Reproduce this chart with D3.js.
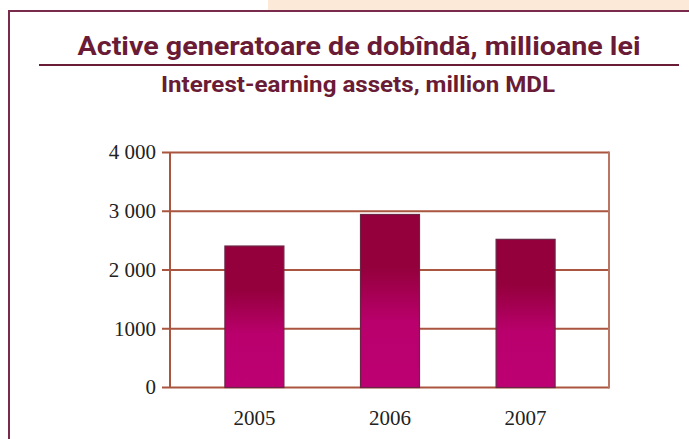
<!DOCTYPE html>
<html>
<head>
<meta charset="utf-8">
<script src="https://cdn.jsdelivr.net/npm/d3@7"></script>
<style>
  html, body { margin: 0; padding: 0; background: #fff; }
</style>
</head>
<body>
<div id="chart"></div>
<script>
// data
const years = ["2005", "2006", "2007"];
const assets = [2408, 2945, 2522];
const yTicks = [0, 1000, 2000, 3000, 4000];
const yTickLabels = ["0", "1000", "2 000", "3 000", "4 000"];

const titleRo = "Active generatoare de dobîndă, millioane lei";
const titleEn = "Interest-earning assets, million MDL";

const width = 689;
const height = 439;
const plot = { left: 170, right: 609, top: 152.5, bottom: 387.5 };
const gridColor = "#a9553f";
const frameColor = "#7a2a4c";

const svg = d3.select("#chart")
    .append("svg")
    .attr("width", width)
    .attr("height", height);

// gradient for the bars: dark crimson on top, magenta at the bottom
const grad = svg.append("defs")
    .append("linearGradient")
    .attr("id", "barGrad")
    .attr("x1", 0).attr("y1", 0)
    .attr("x2", 0).attr("y2", 1);
grad.append("stop").attr("offset", "0%").attr("stop-color", "#93003b");
grad.append("stop").attr("offset", "30%").attr("stop-color", "#93003b");
grad.append("stop").attr("offset", "62%").attr("stop-color", "#b9006c");
grad.append("stop").attr("offset", "100%").attr("stop-color", "#bd0073");

// peach strip at the top right
svg.append("rect")
    .attr("x", 268).attr("y", 0)
    .attr("width", width - 268).attr("height", 10)
    .attr("fill", "#fde9d8");

// frame of the box
svg.append("line")
    .attr("x1", 8).attr("x2", width)
    .attr("y1", 11).attr("y2", 11)
    .style("stroke", frameColor)
    .style("stroke-width", 2);
svg.append("line")
    .attr("x1", 9).attr("x2", 9)
    .attr("y1", 10).attr("y2", height)
    .style("stroke", frameColor)
    .style("stroke-width", 2);

// titles
svg.append("text")
    .attr("x", 359)
    .attr("y", 55)
    .attr("text-anchor", "middle")
    .attr("font-family", "Roboto, sans-serif")
    .attr("font-weight", "bold")
    .attr("font-size", "26px")
    .attr("textLength", 563)
    .attr("lengthAdjust", "spacingAndGlyphs")
    .style("fill", "#6a1b35")
    .text(titleRo);
svg.append("line")
    .attr("x1", 39).attr("x2", 679)
    .attr("y1", 65).attr("y2", 65)
    .style("stroke", "#6a1b35")
    .style("stroke-width", 2);
svg.append("text")
    .attr("x", 358)
    .attr("y", 91.5)
    .attr("text-anchor", "middle")
    .attr("font-family", "Roboto, sans-serif")
    .attr("font-weight", "bold")
    .attr("font-size", "22px")
    .attr("textLength", 394)
    .attr("lengthAdjust", "spacingAndGlyphs")
    .style("fill", "#6a1b35")
    .text(titleEn);

// scales
const y = d3.scaleLinear()
    .domain([0, 4000])
    .range([plot.bottom, plot.top]);

const x = d3.scaleBand()
    .domain(years)
    .range([186.6, 593.4])
    .paddingInner(0.565)
    .paddingOuter(0.2825);

// gridlines
svg.append("g")
    .selectAll("line")
    .data(yTicks)
    .enter()
    .append("line")
    .attr("x1", plot.left - 8)
    .attr("x2", plot.right)
    .attr("y1", d => y(d))
    .attr("y2", d => y(d))
    .style("stroke", gridColor)
    .style("stroke-width", 2);

// left and right borders of the plot
svg.append("line")
    .attr("x1", plot.left).attr("x2", plot.left)
    .attr("y1", plot.top).attr("y2", plot.bottom)
    .style("stroke", gridColor)
    .style("stroke-width", 2);
svg.append("line")
    .attr("x1", plot.right).attr("x2", plot.right)
    .attr("y1", plot.top - 1).attr("y2", plot.bottom + 1)
    .style("stroke", "#bb7563")
    .style("stroke-width", 2);

// y tick labels
svg.append("g")
    .selectAll("text")
    .data(yTicks)
    .enter()
    .append("text")
    .attr("x", plot.left - 14)
    .attr("y", d => y(d))
    .attr("dy", "0.33em")
    .attr("text-anchor", "end")
    .attr("font-family", "'Liberation Serif', serif")
    .attr("font-size", "21px")
    .style("fill", "#222")
    .text((d, i) => yTickLabels[i]);

// bars
svg.append("g")
    .selectAll("rect")
    .data(assets)
    .enter()
    .append("rect")
    .attr("x", (d, i) => x(years[i]))
    .attr("y", d => y(d))
    .attr("width", x.bandwidth())
    .attr("height", d => y(0) - y(d))
    .attr("fill", "url(#barGrad)")
    .style("stroke", "#6b2445")
    .style("stroke-width", 1.2);

// year labels
svg.append("g")
    .selectAll("text")
    .data(years)
    .enter()
    .append("text")
    .attr("x", d => x(d) + x.bandwidth() / 2)
    .attr("y", 425)
    .attr("text-anchor", "middle")
    .attr("font-family", "'Liberation Serif', serif")
    .attr("font-size", "21px")
    .style("fill", "#222")
    .text(d => d);
</script>
</body>
</html>
